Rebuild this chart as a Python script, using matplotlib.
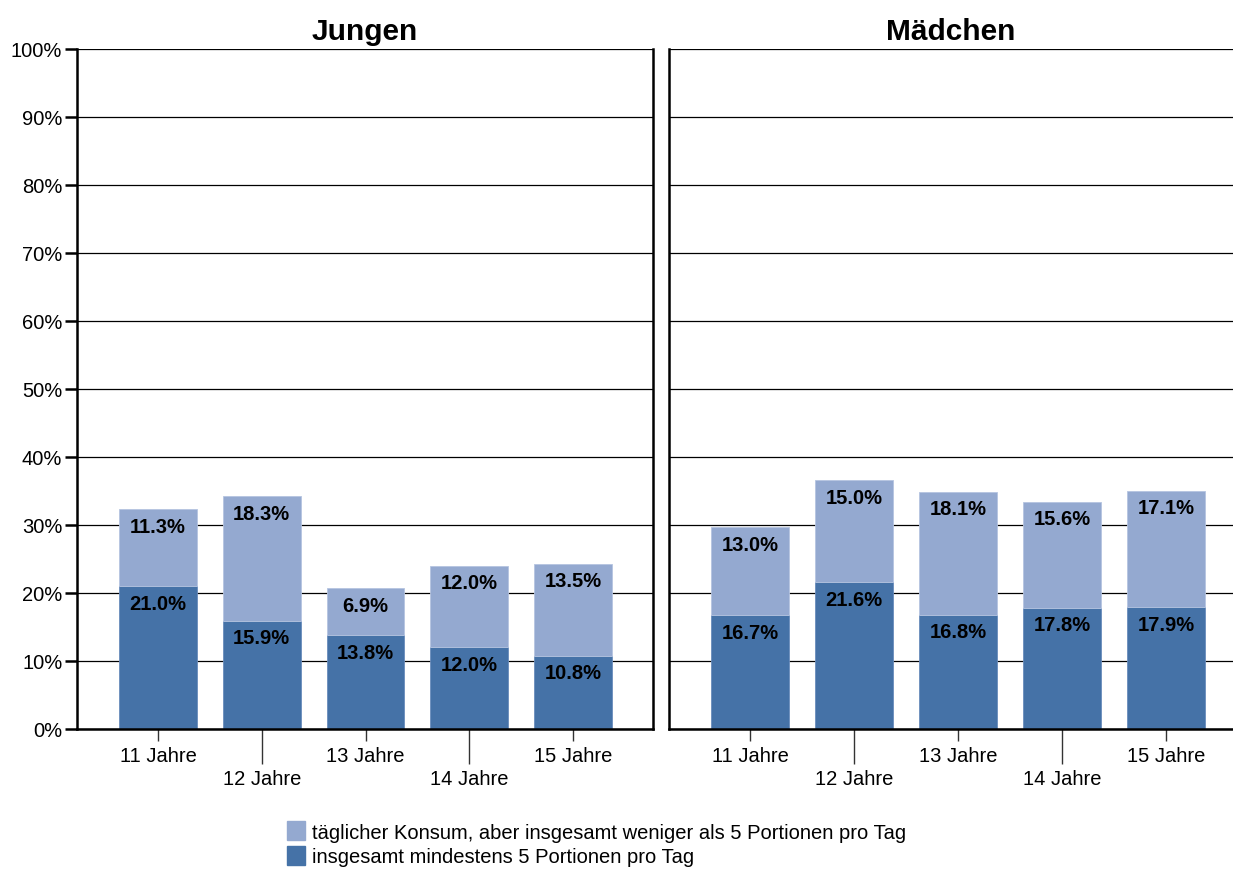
import numpy as np
import matplotlib.pyplot as plt
from matplotlib.patches import Patch

plt.rcParams['font.family'] = ['Liberation Sans', 'DejaVu Sans']

ages = ['11 Jahre', '12 Jahre', '13 Jahre', '14 Jahre', '15 Jahre']
groups = ['Jungen', 'Mädchen']

# insgesamt mindestens 5 Portionen pro Tag
min5 = {'Jungen': [21.0, 15.9, 13.8, 12.0, 10.8],
        'Mädchen': [16.7, 21.6, 16.8, 17.8, 17.9]}
# täglicher Konsum, aber weniger als 5 Portionen
daily = {'Jungen': [11.3, 18.3, 6.9, 12.0, 13.5],
         'Mädchen': [13.0, 15.0, 18.1, 15.6, 17.1]}

legend_labels = ['täglicher Konsum, aber insgesamt weniger als 5 Portionen pro Tag',
                 'insgesamt mindestens 5 Portionen pro Tag']

dark = '#4572A7'
light = '#94A9D0'

W, H = 1233, 870
fig = plt.figure(figsize=(W / 100, H / 100), dpi=100)

ax1 = fig.add_axes([77 / W, 140 / H, 576 / W, 680 / H])
ax2 = fig.add_axes([669 / W, 140 / H, (W - 669) / W, 680 / H])

x = np.arange(len(ages))
for ax, g in zip([ax1, ax2], groups):
    lo = np.array(min5[g])
    hi = np.array(daily[g])
    ax.bar(x, lo, width=0.75, color=dark, edgecolor='#6a8cbc', linewidth=0.6, zorder=2)
    ax.bar(x, hi, bottom=lo, width=0.75, color=light, edgecolor='#b5c4e0', linewidth=0.6, zorder=2)
    for i in range(len(x)):
        ax.text(x[i], lo[i] - 1.1, f'{lo[i]:.1f}%', ha='center', va='top',
                fontsize=14.5, fontweight='bold', zorder=3)
        ax.text(x[i], lo[i] + hi[i] - 1.1, f'{hi[i]:.1f}%', ha='center', va='top',
                fontsize=14.5, fontweight='bold', zorder=3)
    ax.set_ylim(0, 100)
    ax.set_yticks(np.arange(0, 101, 10))
    ax.yaxis.grid(True, color='black', linewidth=0.9, zorder=0)
    ax.set_axisbelow(True)
    ax.set_title(g, fontsize=21.5, fontweight='bold', pad=7)
    # staggered labels: odd positions as major (short tick), even as minor (long tick)
    ax.set_xticks(x[::2])
    ax.set_xticklabels(ages[::2], fontsize=14.5)
    ax.set_xticks(x[1::2], minor=True)
    ax.set_xticklabels(ages[1::2], minor=True, fontsize=14.5)
    # lengths in points (dpi 100 -> 0.72 pt per px)
    ax.tick_params(axis='x', which='major', length=8.6, width=1, color='#333333', pad=3.5)
    ax.tick_params(axis='x', which='minor', length=25, width=1, color='#333333', pad=3.5)
    for s in ['left', 'bottom', 'right', 'top']:
        ax.spines[s].set_linewidth(1.8)
    ax.spines['top'].set_visible(False)

ax1.set_xlim(-0.78, 4.77)
ax2.set_xlim(-0.78, (W - 669) / 104 - 0.78)

ax1.set_yticklabels([f'{v}%' for v in range(0, 101, 10)], fontsize=14.5)
ax1.tick_params(axis='y', length=8.6, width=1.8, pad=2)
ax2.tick_params(axis='y', length=0, labelleft=False)
ax2.spines['right'].set_visible(False)

handles = [Patch(color=light), Patch(color=dark)]
fig.legend(handles, legend_labels, loc='upper left', bbox_to_anchor=(287 / W, 1 - 822 / H),
           frameon=False, fontsize=14.5, handlelength=0.9, handleheight=1.1,
           handletextpad=0.35, labelspacing=0.2, borderaxespad=0, borderpad=0)

fig.savefig('out.png', dpi=100)
